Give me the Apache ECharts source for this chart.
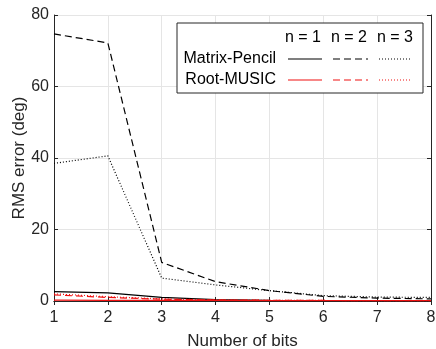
<!DOCTYPE html>
<html><head><meta charset="utf-8">
<script src="https://cdn.jsdelivr.net/npm/echarts@6/dist/echarts.min.js"></script>
<style>html,body{margin:0;padding:0;background:#fff}#c{width:436px;height:349px}</style>
</head><body><div id="c"></div>
<script>
var bits = [1, 2, 3, 4, 5, 6, 7, 8];
var mpN1 = [2.6, 2.3, 1.0, 0.4, 0.2, 0.1, 0.1, 0.1];
var mpN2 = [74.7, 72.2, 10.8, 5.4, 2.9, 1.3, 0.8, 0.6];
var mpN3 = [38.5, 40.6, 6.4, 4.5, 2.9, 1.5, 1.1, 1.0];
var rmN1 = [0.25, 0.2, 0.2, 0.15, 0.1, 0.1, 0.1, 0.1];
var rmN2 = [1.7, 1.0, 0.5, 0.3, 0.2, 0.15, 0.1, 0.1];
var rmN3 = [2.0, 1.2, 0.6, 0.3, 0.2, 0.15, 0.1, 0.1];
var yTicks = [0, 20, 40, 60, 80];
var legendHeaders = ['n = 1', 'n = 2', 'n = 3'];
var legendRows = ['Matrix-Pencil', 'Root-MUSIC'];

function pairs(v) { return bits.map(function (b, i) { return [b, v[i]]; }); }
var font = 'Liberation Sans, Arial, Helvetica, sans-serif';
var axisCol = '#262626';
var red = '#f01010';
var dashed = [7, 4];
var dotted = [1, 2];
function s(name, data, color, type) {
  return { name: name, type: 'line', data: pairs(data), symbol: 'none', animation: false,
    lineStyle: { color: color, width: 1.2, type: type } };
}
var chart = echarts.init(document.getElementById('c'));
var gLeft = 54, gTop = 15, gRight = 5, gBottom = 48;
var graphics = [];
var lx = 177, ly = 23, lw = 246, lh = 70;
graphics.push({ type: 'rect', shape: { x: lx, y: ly, width: lw, height: lh },
  style: { fill: '#fff', stroke: axisCol, lineWidth: 1 }, z: 100 });
var colX = [303, 349, 395];
legendHeaders.forEach(function (h, i) {
  graphics.push({ type: 'text', x: colX[i], y: 38, z: 101,
    style: { text: h, font: '16px ' + font, fill: '#000', textAlign: 'center', textVerticalAlign: 'middle' } });
});
var rowY = [59, 80];
var rowCol = ['#000', red];
var types = ['solid', dashed, dotted];
var segX = [[288, 322], [333, 368], [379, 412]];
legendRows.forEach(function (r, j) {
  graphics.push({ type: 'text', x: 276, y: rowY[j], z: 101,
    style: { text: r, font: '16px ' + font, fill: '#000', textAlign: 'right', textVerticalAlign: 'middle' } });
  segX.forEach(function (sx, i) {
    graphics.push({ type: 'line', z: 101, shape: { x1: sx[0], y1: rowY[j], x2: sx[1], y2: rowY[j] },
      style: { stroke: rowCol[j], lineWidth: 1.2, lineDash: types[i] === 'solid' ? null : types[i] } });
  });
});

chart.setOption({
  animation: false,
  backgroundColor: '#fff',
  grid: { left: gLeft, top: gTop, right: gRight, bottom: gBottom, containLabel: false, outerBoundsMode: 'none' },
  xAxis: [{
    type: 'value', min: 1, max: 8, interval: 1,
    name: 'Number of bits', nameLocation: 'middle', nameGap: 32,
    nameTextStyle: { fontFamily: font, fontSize: 17, color: '#262626' },
    axisLine: { show: true, lineStyle: { color: axisCol } },
    axisTick: { show: true, inside: true, length: 4, lineStyle: { color: axisCol } },
    axisLabel: { fontFamily: font, fontSize: 16, color: '#262626', margin: 9 },
    splitLine: { show: true, lineStyle: { color: '#e5e5e5' } }
  }, {
    type: 'value', min: 1, max: 8, interval: 1, position: 'top',
    axisLine: { show: true, lineStyle: { color: axisCol } },
    axisTick: { show: true, inside: true, length: 4, lineStyle: { color: axisCol } },
    axisLabel: { show: false }, splitLine: { show: false }
  }],
  yAxis: [{
    type: 'value', min: 0, max: 80, interval: 20,
    name: 'RMS error (deg)', nameLocation: 'middle', nameGap: 26, nameMoveOverlap: false,
    nameTextStyle: { fontFamily: font, fontSize: 17, color: '#262626' },
    axisLine: { show: true, lineStyle: { color: axisCol } },
    axisTick: { show: true, inside: true, length: 4, lineStyle: { color: axisCol } },
    axisLabel: { fontFamily: font, fontSize: 16, color: '#262626', margin: 5,
      formatter: function (v) { return yTicks.indexOf(v) >= 0 ? String(v) : ''; } },
    splitLine: { show: true, lineStyle: { color: '#e5e5e5' } }
  }, {
    type: 'value', min: 0, max: 80, interval: 20, position: 'right',
    axisLine: { show: true, lineStyle: { color: axisCol } },
    axisTick: { show: true, inside: true, length: 4, lineStyle: { color: axisCol } },
    axisLabel: { show: false }, splitLine: { show: false }
  }],
  series: [
    s('MP n=1', mpN1, '#000', 'solid'),
    s('MP n=2', mpN2, '#000', dashed),
    s('MP n=3', mpN3, '#000', dotted),
    s('RM n=2', rmN2, red, dashed),
    s('RM n=3', rmN3, red, dotted),
    s('RM n=1', rmN1, red, 'solid')
  ],
  graphic: graphics
});
</script></body></html>
